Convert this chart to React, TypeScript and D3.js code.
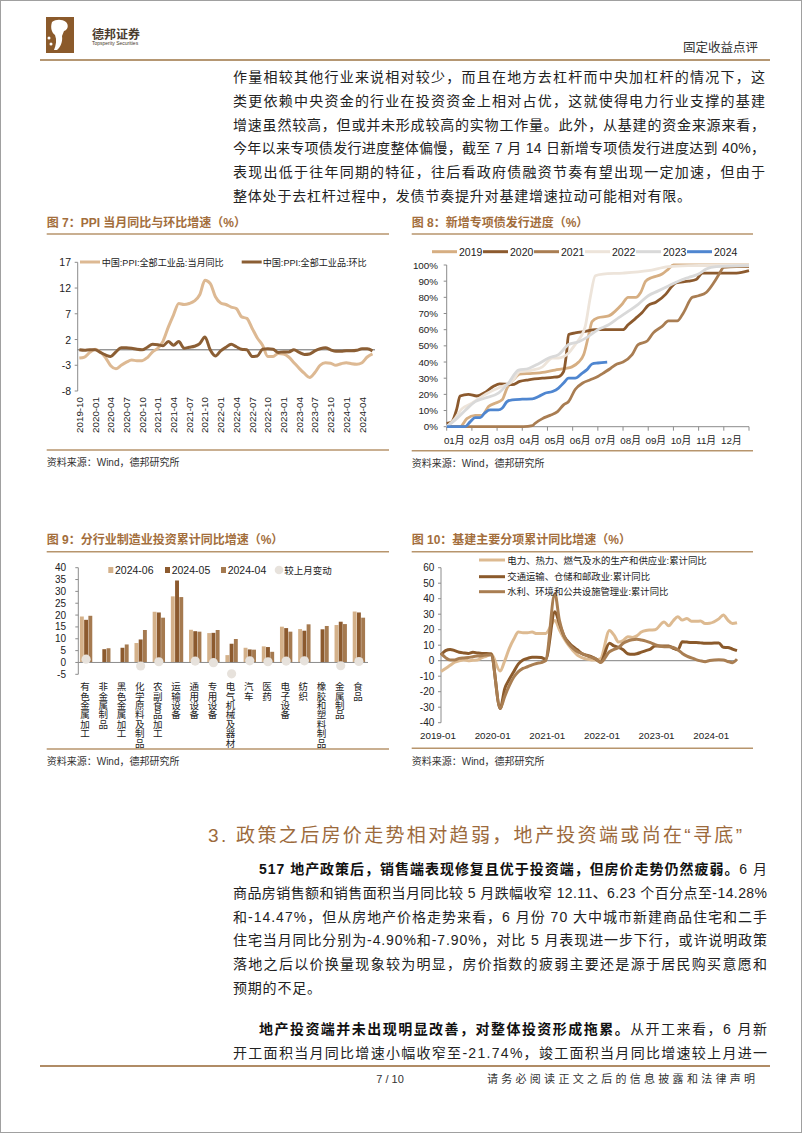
import React from "react";
import * as d3 from "d3";

const SANS = "'Liberation Sans', Arial, 'Noto Sans CJK SC', sans-serif";
const TITLE_C = "#A36E3C";
const RULE_C = "#B7956D";
const TEXT_C = "#222222";
const AXIS_C = "#8c8c8c";

// ---------------- Chart 7: PPI ----------------
const ppiTickLabels = ["2019-10","2020-01","2020-04","2020-07","2020-10","2021-01","2021-04","2021-07","2021-10","2022-01","2022-04","2022-07","2022-10","2023-01","2023-04","2023-07","2023-10","2024-01","2024-04"];
const ppiYTicks = [-8, -3, 2, 7, 12, 17];
const ppiYoY = [-1.6,-1.4,-0.5, 0.1,-0.4,-1.5,-3.1,-3.7,-3.0,-2.4,-2.0,-2.1,-2.1,-1.5,-0.4, 0.3,1.7,4.4,6.8,9.0,8.8,9.0,9.5,10.7,13.5,12.9,10.3, 9.1,8.8,8.3,8.0,6.4,6.1,4.2,2.3,0.9,-1.3,-1.3,-0.7, -0.8,-1.4,-2.5,-3.6,-4.6,-5.4,-4.4,-3.0,-2.5,-2.6,-3.0,-2.7, -2.5,-2.7,-2.8,-2.5,-1.4,-0.8];
const ppiMoM = [0.0,-0.1,0.0, 0.0,-0.5,-1.0,-1.3,-0.4,0.4,0.4,0.3,0.1,0.0,0.5,1.1, 1.0,0.8,1.6,0.9,1.6,0.3,0.5,0.7,1.2,2.5,0.0,-1.2, -0.2,0.5,1.1,0.6,0.1,0.0,-1.3,-1.2,0.1,0.2,0.1,-0.5, -0.4,-0.4,0.0,-0.5,-0.9,-0.8,-0.2,0.2,0.4,0.0,-0.3,-0.3, -0.2,-0.2,-0.1,0.2,0.2,-0.2];

// ---------------- Chart 8: special bond issuance progress ----------------
const bondYears = ["2019", "2020", "2021", "2022", "2023", "2024"];
const bondMonthLabels = ["01月","02月","03月","04月","05月","06月","07月","08月","09月","10月","11月","12月"];
const bondYTicks = [0, 10, 20, 30, 40, 50, 60, 70, 80, 90, 100];
const issue2019 = [[0,0],[0.53,0],[0.8,5],[1.13,7],[1.4,7],[1.66,12.5],[1.92,14.5],[2.2,16.6],[2.4,24],[2.65,29],[2.9,32.6],[3.4,33],[3.9,33.8],[4.3,35],[4.7,36],[4.97,37],[5.24,40],[5.44,44.6],[5.64,57],[5.77,65],[6.0,67.4],[6.43,68.5],[6.7,71.6],[6.96,75.7],[7.2,80],[7.5,80],[7.7,83],[7.9,90],[8.15,92.3],[8.55,94.4],[8.8,97.5],[9.0,100],[12,100]];
const issue2020 = [[0,2],[0.2,3],[0.4,11],[0.53,19],[0.86,20],[1.2,19],[1.5,21],[1.86,25],[2.1,26.5],[2.6,26],[2.9,28],[3.25,29],[3.8,30],[4.2,30.5],[4.45,31],[4.64,34],[4.75,44.6],[4.84,57],[5.1,58],[5.5,59],[5.9,60],[6.4,60],[7.0,60],[7.2,63],[7.5,67],[7.75,70.5],[8.0,75],[8.3,77],[8.7,82],[8.95,87],[9.1,89],[9.6,90],[9.9,91],[10.15,95],[10.8,95],[11.5,95],[12,96.5]];
const issue2021 = [[0,0],[3.05,0],[3.4,0.6],[3.5,2],[3.8,5],[4.1,7],[4.4,9.3],[4.64,13.5],[4.84,15.6],[5.1,23],[5.4,27],[5.7,29],[6.0,31],[6.2,33],[6.5,36],[6.76,38.8],[7.0,40],[7.36,44.6],[7.6,50.8],[7.96,53],[8.2,58],[8.55,62],[8.8,65.4],[9.15,65.4],[9.4,70.5],[9.75,80],[10.0,81],[10.3,83],[10.6,89],[10.8,94],[11.0,98.5],[11.5,99],[12,99]];
const issue2022 = [[0,0],[0.33,5],[0.6,11],[1.0,14.5],[1.5,19.7],[2.05,24],[2.6,28],[2.9,34],[3.4,35],[3.8,37],[4.2,42.5],[4.44,42.5],[4.84,45.6],[5.1,50.8],[5.3,55],[5.5,62],[5.7,80],[5.9,93.4],[6.2,94.4],[7.0,95],[8.0,96.5],[8.8,99],[9.6,99.6],[12,100]];
const issue2023 = [[0,0],[0.33,4],[0.73,10],[1.13,15.5],[1.5,17.6],[2.05,20.7],[2.45,27],[2.85,35],[3.25,36],[3.65,39],[4.05,42.5],[4.44,44.6],[4.84,50.8],[5.24,52.5],[5.64,56],[6.0,60],[6.43,63],[6.83,67.4],[7.23,71.6],[7.6,75.7],[8.0,81],[8.4,84],[8.8,87],[9.2,90],[9.6,92.3],[10.0,94.4],[10.3,97.5],[10.7,99],[12,99.6]];
const issue2024 = [[0,0],[0.73,0],[0.93,3],[1.13,5.6],[1.33,5.6],[1.5,8.3],[1.72,10.4],[2.05,10.4],[2.2,11.4],[2.4,15.6],[2.6,16.6],[3.0,17],[3.4,17.2],[3.65,18.7],[3.9,20.7],[4.2,21.8],[4.44,23.9],[4.64,27],[4.84,30],[5.1,30],[5.37,33],[5.57,35.3],[5.77,38.8],[6.0,39.4],[6.37,40]];
const bondColors = ["#D6AE82", "#8C5A2E", "#A97D52", "#EDE4DA", "#D9D9D9", "#4F86D0"];

// ---------------- Chart 9: manufacturing investment ----------------
const mfgCats = ["有色金属加工","非金属制品","黑色金属加工","化学原料及制品","农副食品加工","运输设备","通用设备","专用设备","电气机械及器材","汽车","医药","电子设备","纺织","橡胶和塑料制品","金属制品","食品"];
const mfgSeries = ["2024-06", "2024-05", "2024-04"];
const mfg202406 = [19.4, null, null, 8.2, 21.4, 27.9, 13.8, 12.4, 3.1, 6.2, 6.8, 15.1, 14.1, null, 15.8, 21.5];
const mfg202405 = [18.0, 5.6, 6.2, 9.7, 21.1, 34.6, 13.2, 12.5, 7.9, 5.5, 6.5, 14.5, 13.4, 14.0, 17.2, 21.1];
const mfg202404 = [19.7, 6.0, 7.6, 13.7, 18.9, 27.6, 13.0, 13.7, 9.9, 5.4, 4.5, 13.0, 16.1, 15.4, 16.2, 18.9];
const mfgChange = [1.4, null, null, -1.5, 0.3, -6.7, 0.6, -0.1, -4.8, 0.7, 0.3, 0.6, 0.7, null, -1.4, 0.4];
const mfgYTicks = [-5, 0, 5, 10, 15, 20, 25, 30, 35, 40];
const mfgColors = ["#D4B18A", "#8C5A2E", "#A57A50"];

// ---------------- Chart 10: infrastructure ----------------
const infraMonths = [
  "2019-01","2019-02","2019-03","2019-04","2019-05","2019-06","2019-07","2019-08","2019-09","2019-10","2019-11","2019-12",
  "2020-02","2020-03","2020-04","2020-05","2020-06","2020-07","2020-08","2020-09","2020-10","2020-11","2020-12",
  "2021-02","2021-03","2021-04","2021-05","2021-06","2021-07","2021-08","2021-09","2021-10","2021-11","2021-12",
  "2022-02","2022-03","2022-04","2022-05","2022-06","2022-07","2022-08","2022-09","2022-10","2022-11","2022-12",
  "2023-02","2023-03","2023-04","2023-05","2023-06","2023-07","2023-08","2023-09","2023-10","2023-11","2023-12",
  "2024-02","2024-03","2024-04","2024-05","2024-06"];
const infraPower = [-7,-5,-3,-1,0,0.5,0,0.3,0.5,2,3,4.5, -6.7,0,8,14,18.5,18,18,18.5,17.5,17.5,17.6, 26,20,14.5,10,6.5,3.5,2,1,0.5,0.5,1.1, 19.5,16.5,12,13,15.5,15,16,18.5,19.5,19.8,20, 25,22.5,25.8,28.4,26.2,27.3,25.5,25.4,25.6,24,24.2, 27,29.5,26.2,24,24.5];
const infraTransport = [3.7,6.5,7.3,6.5,5.5,5,4.7,5.5,5,4.7,4.7,4.3, -30.8,-18,-12,-7,-2,0.5,1.5,2.2,2.2,2,1, 31.6,24,16,12,9,6.9,4.5,3.5,2.6,1,-1, 11.2,9.5,8.6,7,4.5,4.1,4.5,5.5,6.5,7.5,9.5, 9.5,9.5,8,7,12.3,12,11.8,11.8,11.5,11.2,11.2, 11.5,8.6,8.5,7.5,6.5];
const infraWater = [4.7,2,0.5,0.5,1.5,1.8,2,2.6,3,3.2,3.7,3.7, -30.8,-23,-16,-10.5,-7,-5,-3.9,-2.7,-1.8,-1.2,0, 43.4,26,16,11,8,5.8,4.5,3.3,2.2,1.2,-1.2, 5.8,7.3,8.5,11.2,12.7,13.5,13.8,13.3,12.6,11.6,10.3, 9,9,8.5,7,4.7,3,1.8,0.7,-0.1,-0.6,0.1, 0.6,0.5,-0.5,-1.3,1.0];
const infraNames = ["电力、热力、燃气及水的生产和供应业:累计同比", "交通运输、仓储和邮政业:累计同比", "水利、环境和公共设施管理业:累计同比"];
const infraColors = ["#DDBA91", "#8B5A2B", "#A97E52"];
const infraXLabels = ["2019-01","2020-01","2021-01","2022-01","2023-01","2024-01"];
const infraYTicks = [60, 50, 40, 30, 20, 10, 0, -10, -20, -30, -40];

// ---------------- Body text ----------------
type Seg = { t: string; b?: boolean };
const para1: Seg[][] = [
  [{ t: "作量相较其他行业来说相对较少，而且在地方去杠杆而中央加杠杆的情况下，这" }],
  [{ t: "类更依赖中央资金的行业在投资资金上相对占优，这就使得电力行业支撑的基建" }],
  [{ t: "增速虽然较高，但或并未形成较高的实物工作量。此外，从基建的资金来源来看，" }],
  [{ t: "今年以来专项债发行进度整体偏慢，截至 7 月 14 日新增专项债发行进度达到 40%，" }],
  [{ t: "表现出低于往年同期的特征，往后看政府债融资节奏有望出现一定加速，但由于" }],
  [{ t: "整体处于去杠杆过程中，发债节奏提升对基建增速拉动可能相对有限。" }],
];
const para2: Seg[][] = [
  [{ t: "517 地产政策后，销售端表现修复且优于投资端，但房价走势仍然疲弱。", b: true }, { t: "6 月" }],
  [{ t: "商品房销售额和销售面积当月同比较 5 月跌幅收窄 12.11、6.23 个百分点至-14.28%" }],
  [{ t: "和-14.47%，但从房地产价格走势来看，6 月份 70 大中城市新建商品住宅和二手" }],
  [{ t: "住宅当月同比分别为-4.90%和-7.90%，对比 5 月表现进一步下行，或许说明政策" }],
  [{ t: "落地之后以价换量现象较为明显，房价指数的疲弱主要还是源于居民购买意愿和" }],
  [{ t: "预期的不足。" }],
];
const para3: Seg[][] = [
  [{ t: "地产投资端并未出现明显改善，对整体投资形成拖累。", b: true }, { t: "从开工来看，6 月新" }],
  [{ t: "开工面积当月同比增速小幅收窄至-21.74%，竣工面积当月同比增速较上月进一" }],
];

function TextLine({ x, y, w, segs, just }: any) {
  const extra = just ? { textLength: w, lengthAdjust: "spacing" } : { letterSpacing: 0.8 };
  return (
    <text x={x} y={y} fontSize={14} fill={TEXT_C} dominantBaseline="central" {...extra}>
      {segs.map((s: Seg, i: number) => (
        <tspan key={i} fontWeight={s.b ? 700 : 400} fill={s.b ? "#111" : TEXT_C}>{s.t}</tspan>
      ))}
    </text>
  );
}

function Para({ lines, x0, right, y0, indent }: any) {
  return (
    <g>
      {lines.map((segs: Seg[], i: number) => {
        const x = i === 0 && indent ? x0 + 26 : x0;
        const last = i === lines.length - 1 && lines.length > 2;
        return <TextLine key={i} x={x} y={y0 + i * 23.8} w={right - x} segs={segs} just={!last} />;
      })}
    </g>
  );
}

function ChartFrame({ x0, x1, title, yTitle, yRule, ySrcRule, ySrc }: any) {
  return (
    <g>
      <text x={x0} y={yTitle} fontSize={12} fontWeight={700} fill={TITLE_C} dominantBaseline="central">{title}</text>
      <line x1={x0} x2={x1} y1={yRule} y2={yRule} stroke={RULE_C} strokeWidth={1.5} />
      <line x1={x0} x2={x1} y1={ySrcRule} y2={ySrcRule} stroke={RULE_C} strokeWidth={1.5} />
      <text x={x0} y={ySrc} fontSize={10} fill="#333" dominantBaseline="central">资料来源：Wind，德邦研究所</text>
    </g>
  );
}

function Chart7() {
  const x = d3.scaleLinear().domain([0, ppiYoY.length - 1]).range([79.3, 372.5]);
  const y = d3.scaleLinear().domain([-8, 17]).range([391, 262.3]);
  const line = d3.line<number>().x((_d, i) => x(i)).y((d) => y(d)).curve(d3.curveMonotoneX);
  return (
    <g>
      <ChartFrame x0={46.7} x1={389} title="图 7：PPI 当月同比与环比增速（%）" yTitle={222.7} yRule={234} ySrcRule={450} ySrc={462.5} />
      <line x1={77.7} x2={77.7} y1={y(17)} y2={y(-8)} stroke={AXIS_C} />
      {ppiYTicks.map((t) => (
        <g key={t}>
          <line x1={74.7} x2={77.7} y1={y(t)} y2={y(t)} stroke={AXIS_C} />
          <text x={71} y={y(t)} textAnchor="end" dominantBaseline="central" fontSize={10.5} fill="#222">{t}</text>
        </g>
      ))}
      <line x1={77.7} x2={375} y1={y(0)} y2={y(0)} stroke="#555" strokeWidth={0.9} />
      {ppiTickLabels.map((l, i) => (
        <text key={l} transform={`translate(${x(i * 3)},397) rotate(-90)`} textAnchor="end" dominantBaseline="central" fontSize={9.8} fill="#222">{l}</text>
      ))}
      <path d={line(ppiYoY) || ""} fill="none" stroke="#DDB993" strokeWidth={3} strokeLinejoin="round" />
      <path d={line(ppiMoM) || ""} fill="none" stroke="#8B5E34" strokeWidth={3} strokeLinejoin="round" />
      <line x1={80} x2={100} y1={262} y2={262} stroke="#DDB993" strokeWidth={3} />
      <text x={101.7} y={262} fontSize={9.5} fill="#222" dominantBaseline="central" textLength={122} lengthAdjust="spacingAndGlyphs">中国:PPI:全部工业品:当月同比</text>
      <line x1={241.7} x2={261.7} y1={262} y2={262} stroke="#8B5E34" strokeWidth={3} />
      <text x={262.7} y={262} fontSize={9.5} fill="#222" dominantBaseline="central" textLength={104} lengthAdjust="spacingAndGlyphs">中国:PPI:全部工业品:环比</text>
    </g>
  );
}

function Chart8() {
  const x = d3.scaleLinear().domain([0, 12]).range([446.7, 749]);
  const y = d3.scaleLinear().domain([0, 100]).range([426.7, 265]);
  const line = d3.line<number[]>().x((d) => x(d[0])).y((d) => y(d[1])).curve(d3.curveMonotoneX);
  const series = [issue2019, issue2020, issue2021, issue2022, issue2023, issue2024];
  return (
    <g>
      <ChartFrame x0={411.7} x1={753} title="图 8：新增专项债发行进度（%）" yTitle={222.7} yRule={234} ySrcRule={450.7} ySrc={463} />
      <line x1={446.7} x2={446.7} y1={y(100)} y2={y(0)} stroke={AXIS_C} />
      <line x1={446.7} x2={749} y1={y(0)} y2={y(0)} stroke={AXIS_C} />
      {bondYTicks.map((t) => (
        <g key={t}>
          <line x1={443.7} x2={446.7} y1={y(t)} y2={y(t)} stroke={AXIS_C} />
          <text x={438} y={y(t)} textAnchor="end" dominantBaseline="central" fontSize={9.8} fill="#222">{t}%</text>
        </g>
      ))}
      {d3.range(13).map((i) => (
        <line key={i} x1={x(i)} x2={x(i)} y1={y(0)} y2={y(0) + 4} stroke={AXIS_C} />
      ))}
      {bondMonthLabels.map((l, i) => (
        <text key={l} x={x(i + 0.3)} y={440} textAnchor="middle" dominantBaseline="central" fontSize={9.8} fill="#222">{l}</text>
      ))}
      {series.map((s, i) => (
        <path key={i} d={line(s) || ""} fill="none" stroke={bondColors[i]} strokeWidth={2.8} strokeLinejoin="round" />
      ))}
      {bondYears.map((yr, i) => {
        const lx = 432 + 51 * i;
        return (
          <g key={yr}>
            <line x1={lx} x2={lx + 25} y1={251.7} y2={251.7} stroke={bondColors[i]} strokeWidth={3} />
            <text x={lx + 27} y={251.7} fontSize={10.5} fill="#222" dominantBaseline="central">{yr}</text>
          </g>
        );
      })}
    </g>
  );
}

function Chart9() {
  const y = d3.scaleLinear().domain([-5, 40]).range([674.3, 567.7]);
  const band = d3.scaleBand<string>().domain(mfgCats).range([77, 368]).padding(0);
  const gw = band.step() * 0.68;
  const sub = d3.scaleBand<string>().domain(mfgSeries).range([-gw / 2, gw / 2]).paddingInner(0.08);
  const vals = [mfg202406, mfg202405, mfg202404];
  const cx = (c: string) => (band(c) || 0) + band.step() / 2;
  return (
    <g>
      <ChartFrame x0={46.7} x1={389} title="图 9：分行业制造业投资累计同比增速（%）" yTitle={540} yRule={551.7} ySrcRule={749} ySrc={761.7} />
      <line x1={78.3} x2={78.3} y1={y(40)} y2={y(-5)} stroke={AXIS_C} />
      {mfgYTicks.map((t) => (
        <g key={t}>
          <line x1={75.3} x2={78.3} y1={y(t)} y2={y(t)} stroke={AXIS_C} />
          <text x={66} y={y(t)} textAnchor="end" dominantBaseline="central" fontSize={10} fill="#222">{t}</text>
        </g>
      ))}
      {mfgCats.map((c, ci) => (
        <g key={c}>
          {vals.map((arr, si) => {
            const v = arr[ci];
            if (v === null || v === undefined) return null;
            const bx = cx(c) + (sub(mfgSeries[si]) || 0);
            return <rect key={si} x={bx} y={y(Math.max(0, v))} width={sub.bandwidth()} height={Math.abs(y(v) - y(0))} fill={mfgColors[si]} />;
          })}
        </g>
      ))}
      <line x1={78.3} x2={368} y1={y(0)} y2={y(0)} stroke={AXIS_C} />
      {mfgCats.map((c, ci) => {
        const v = mfgChange[ci];
        if (v === null || v < -5 || v > 40) return null;
        return <circle key={c} cx={cx(c)} cy={y(v)} r={4.6} fill="#E7E2DC" />;
      })}
      {mfgCats.map((c) => (
        <g key={c}>
          {Array.from(c).map((ch, j) => (
            <text key={j} x={cx(c) - 1} y={686.7 + j * 9.4} textAnchor="middle" dominantBaseline="central" fontSize={9.5} fill="#222">{ch}</text>
          ))}
        </g>
      ))}
      {mfgSeries.map((s, i) => {
        const lx = [108.3, 165, 221][i];
        return (
          <g key={s}>
            <rect x={lx} y={567} width={5} height={6} fill={mfgColors[i]} />
            <text x={lx + 6.7} y={570} fontSize={10.5} fill="#222" dominantBaseline="central">{s}</text>
          </g>
        );
      })}
      <circle cx={279} cy={570} r={4.3} fill="#E7E2DC" />
      <text x={284.3} y={570} fontSize={9.5} fill="#222" dominantBaseline="central">较上月变动</text>
    </g>
  );
}

function monthIndex(s: string) {
  return (+s.slice(0, 4) - 2019) * 12 + (+s.slice(5, 7) - 1);
}

function Chart10() {
  const x = d3.scaleLinear().domain([0, 65]).range([441, 737]);
  const y = d3.scaleLinear().domain([-40, 60]).range([722.7, 567.7]);
  const seriesVals = [infraPower, infraTransport, infraWater];
  const line = d3.line<[string, number]>().x((d) => x(monthIndex(d[0]))).y((d) => y(d[1])).curve(d3.curveMonotoneX);
  return (
    <g>
      <ChartFrame x0={411.7} x1={753} title="图 10：基建主要分项累计同比增速（%）" yTitle={540} yRule={551.7} ySrcRule={748.3} ySrc={761.7} />
      <line x1={441} x2={441} y1={y(60)} y2={y(-40)} stroke={AXIS_C} />
      {infraYTicks.map((t) => (
        <g key={t}>
          <line x1={438} x2={441} y1={y(t)} y2={y(t)} stroke={AXIS_C} />
          <text x={434.3} y={y(t)} textAnchor="end" dominantBaseline="central" fontSize={10} fill="#222">{t}</text>
        </g>
      ))}
      <line x1={441} x2={737} y1={y(0)} y2={y(0)} stroke="#808080" />
      {infraXLabels.map((l) => (
        <text key={l} x={x(monthIndex(l)) - 3} y={735} textAnchor="middle" dominantBaseline="central" fontSize={9.8} fill="#222">{l}</text>
      ))}
      {seriesVals.map((vals, si) => (
        <path key={si} d={line(infraMonths.map((m, i) => [m, vals[i]] as [string, number])) || ""} fill="none" stroke={infraColors[si]} strokeWidth={3} strokeLinejoin="round" />
      ))}
      {infraNames.map((n, i) => {
        const ly = [560, 576.7, 591.7][i];
        const tl = [199.4, 142.7, 161][i];
        return (
          <g key={n}>
            <line x1={479} x2={505} y1={ly} y2={ly} stroke={infraColors[i]} strokeWidth={3} />
            <text x={507.3} y={ly} fontSize={9.5} fill="#222" dominantBaseline="central" textLength={tl} lengthAdjust="spacingAndGlyphs">{n}</text>
          </g>
        );
      })}
    </g>
  );
}

function Header() {
  return (
    <g>
      <rect x={46} y={17} width={28} height={36} fill="#8B5A2B" />
      <path d="M52,22 C56,19 62,19 66,22 C69,25 68,30 64,31 L62,36 C63,42 60,48 57,50 L54,50 C56,45 57,40 55,35 C52,33 50,28 52,22 Z" fill="#fff" />
      <circle cx={49} cy={38} r={1.5} fill="#fff" />
      <circle cx={51} cy={44} r={1.5} fill="#fff" />
      <text x={92} y={33} fontSize={12} fontWeight={700} fill="#4a3b2e" dominantBaseline="central" fontFamily="'Noto Sans CJK SC', sans-serif">德邦证券</text>
      <text x={92} y={43} fontSize={5} fill="#4a3b2e" dominantBaseline="central">Topsperity Securities</text>
      <text x={758} y={48} fontSize={12.5} fill="#333" textAnchor="end" dominantBaseline="central">固定收益点评</text>
      <line x1={40} x2={770} y1={60} y2={60} stroke="#B59773" strokeWidth={2} />
    </g>
  );
}

export default function App() {
  return (
    <div style={{ position: "absolute", left: 0, top: 0, width: 802, height: 1133, background: "#fff" }}>
      <svg width={802} height={1133} viewBox="0 0 802 1133" style={{ display: "block", fontFamily: SANS }}>
        <rect x={0.5} y={0.5} width={801} height={1132} fill="#fff" stroke="#a0a0a0" />
        <Header />
        <Para lines={para1} x0={233} right={765} y0={77} indent={false} />
        <Chart7 />
        <Chart8 />
        <Chart9 />
        <Chart10 />
        <text x={208} y={835} fontSize={19} fill="#9C6A3C" dominantBaseline="central" textLength={534} lengthAdjust="spacing">3. 政策之后房价走势相对趋弱，地产投资端或尚在“寻底”</text>
        <Para lines={para2} x0={233} right={767} y0={869} indent={true} />
        <Para lines={para3} x0={233} right={767} y0={1029} indent={true} />
        <line x1={40} x2={770} y1={1066} y2={1066} stroke="#B08C66" strokeWidth={2} />
        <text x={390} y={1079} fontSize={11} fill="#333" textAnchor="middle" dominantBaseline="central">7 / 10</text>
        <text x={487} y={1079} fontSize={11} fill="#333" dominantBaseline="central" textLength={268} lengthAdjust="spacing">请务必阅读正文之后的信息披露和法律声明</text>
      </svg>
    </div>
  );
}
